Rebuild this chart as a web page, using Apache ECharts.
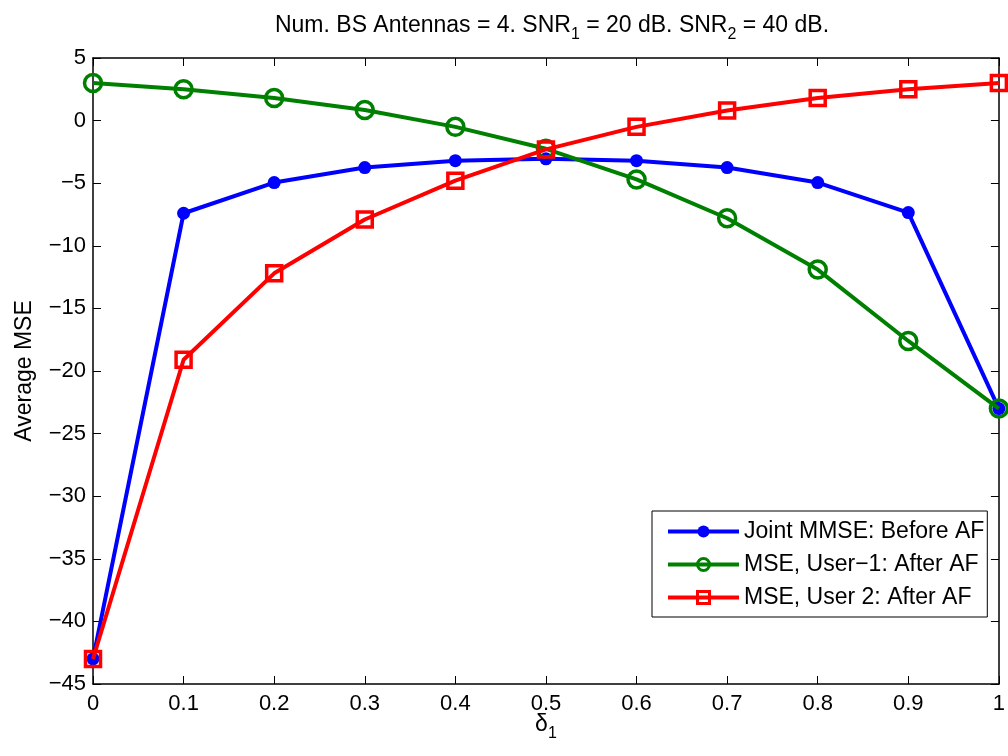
<!DOCTYPE html>
<html>
<head>
<meta charset="utf-8">
<script src="https://cdn.jsdelivr.net/npm/echarts@6/dist/echarts.min.js"></script>
<style>html,body{margin:0;padding:0;background:#fff}#c{width:1008px;height:756px}</style>
</head>
<body>
<div id="c"></div>
<script>
const deltas = [0, 0.1, 0.2, 0.3, 0.4, 0.5, 0.6, 0.7, 0.8, 0.9, 1];
const jointMMSE = [-43, -7.4, -4.95, -3.75, -3.2, -3.05, -3.2, -3.75, -4.95, -7.35, -23];
const user1MSE = [3.0, 2.5, 1.8, 0.85, -0.5, -2.25, -4.7, -7.8, -11.9, -17.6, -23];
const user2MSE = [-43, -19.1, -12.2, -7.9, -4.8, -2.3, -0.5, 0.8, 1.8, 2.5, 3.0];
const seriesNames = ['Joint MMSE: Before AF', 'MSE, User\u22121: After AF', 'MSE, User 2: After AF'];
const xTicks = ['0', '0.1', '0.2', '0.3', '0.4', '0.5', '0.6', '0.7', '0.8', '0.9', '1'];

const FONT = 'Liberation Sans, Arial, Helvetica, sans-serif';
const FS = 23;
const TFS = 22;
const pair = a => a.map((v, i) => [deltas[i], v]);
const minus = v => String(v).replace('-', '\u2212');

const chart = echarts.init(document.getElementById('c'), null, {renderer: 'canvas'});
const tickIn = {show: true, inside: true, length: 8, lineStyle: {color: '#000', width: 1}};
const axisLineK = {show: true, onZero: false, lineStyle: {color: '#000', width: 1.5}};
const subStyle = {fontFamily: FONT, fontSize: 16, color: '#000', padding: [19, 0, 0, 0]};

chart.setOption({
  animation: false,
  backgroundColor: '#fff',
  textStyle: {fontFamily: FONT},
  title: {
    text: 'Num. BS Antennas = 4. SNR{sub|1} = 20 dB. SNR{sub|2} = 40 dB.',
    left: 547, top: 3, textAlign: 'center',
    textStyle: {
      fontFamily: FONT, fontSize: FS, fontWeight: 'normal', color: '#000',
      rich: {sub: subStyle}
    }
  },
  grid: {left: 93, right: 7, top: 58, bottom: 72},
  legend: {
    orient: 'vertical', left: 652, top: 511,
    backgroundColor: '#fff', borderColor: '#000', borderWidth: 1,
    padding: [9, 3, 8, 14], itemGap: 10,
    itemWidth: 71, itemHeight: 15,
    textStyle: {fontFamily: FONT, fontSize: FS, color: '#000'},
    lineStyle: {width: 4},
    itemStyle: {borderWidth: 3},
    data: seriesNames
  },
  xAxis: [{
    type: 'value', min: 0, max: 1, interval: 0.1, position: 'bottom',
    axisLine: axisLineK, axisTick: tickIn, splitLine: {show: false},
    axisLabel: {fontFamily: FONT, fontSize: TFS, color: '#000', margin: 9,
      formatter: (v) => xTicks[Math.round(v * 10)]},
    name: '\u03b4{sub|1}', nameLocation: 'middle', nameGap: 23, nameMoveOverlap: false,
    nameTextStyle: {fontFamily: FONT, fontSize: FS, color: '#000', rich: {sub: subStyle}}
  }, {
    type: 'value', min: 0, max: 1, interval: 0.1, position: 'top',
    axisLine: axisLineK, axisTick: tickIn, axisLabel: {show: false}, splitLine: {show: false}
  }],
  yAxis: [{
    type: 'value', min: -45, max: 5, interval: 5, position: 'left',
    axisLine: axisLineK, axisTick: tickIn, splitLine: {show: false},
    axisLabel: {fontFamily: FONT, fontSize: TFS, color: '#000', margin: 7, formatter: minus},
    name: 'Average MSE', nameLocation: 'middle', nameGap: 57, nameRotate: 90, nameMoveOverlap: false,
    nameTextStyle: {fontFamily: FONT, fontSize: FS, color: '#000'}
  }, {
    type: 'value', min: -45, max: 5, interval: 5, position: 'right',
    axisLine: axisLineK, axisTick: tickIn, axisLabel: {show: false}, splitLine: {show: false}
  }],
  series: [{
    name: seriesNames[0], type: 'line', data: pair(jointMMSE),
    symbol: 'circle', symbolSize: 13,
    lineStyle: {color: '#0000ff', width: 4},
    itemStyle: {color: '#0000ff'}, z: 2
  }, {
    name: seriesNames[1], type: 'line', data: pair(user1MSE),
    symbol: 'circle', symbolSize: 17,
    lineStyle: {color: '#008000', width: 4},
    itemStyle: {color: 'rgba(0,0,0,0)', borderColor: '#008000', borderWidth: 3.5}, z: 3
  }, {
    name: seriesNames[2], type: 'line', data: pair(user2MSE),
    symbol: 'rect', symbolSize: 15,
    lineStyle: {color: '#ff0000', width: 4},
    itemStyle: {color: 'rgba(0,0,0,0)', borderColor: '#ff0000', borderWidth: 3.5}, z: 4
  }]
});
</script>
</body>
</html>
